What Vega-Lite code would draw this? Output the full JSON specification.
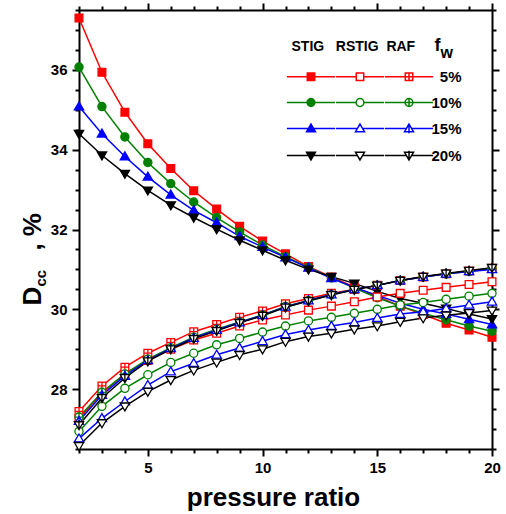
{
  "$schema": "https://vega.github.io/schema/vega-lite/v6.json",
  "width": 413,
  "height": 439,
  "autosize": {"type": "none"},
  "padding": {"left": 79, "top": 10, "right": 14, "bottom": 65},
  "background": "white",
  "config": {
    "view": {"stroke": null},
    "font": "Liberation Sans",
    "axis": {
      "grid": false,
      "domainColor": "black",
      "domainWidth": 2,
      "tickColor": "black",
      "tickWidth": 2,
      "labelFont": "Liberation Sans",
      "labelFontWeight": "bold",
      "labelFontSize": 15,
      "labelColor": "black",
      "titleFont": "Liberation Sans",
      "titleFontWeight": "bold",
      "titleColor": "black"
    }
  },
  "data": {"values": [
    {"s":"STIG 5%","x":2,"y":37.3},{"s":"STIG 5%","x":3,"y":35.94},{"s":"STIG 5%","x":4,"y":34.94},{"s":"STIG 5%","x":5,"y":34.15},{"s":"STIG 5%","x":6,"y":33.53},{"s":"STIG 5%","x":7,"y":32.97},{"s":"STIG 5%","x":8,"y":32.51},{"s":"STIG 5%","x":9,"y":32.08},{"s":"STIG 5%","x":10,"y":31.71},{"s":"STIG 5%","x":11,"y":31.39},{"s":"STIG 5%","x":12,"y":31.07},{"s":"STIG 5%","x":13,"y":30.81},{"s":"STIG 5%","x":14,"y":30.56},{"s":"STIG 5%","x":15,"y":30.32},{"s":"STIG 5%","x":16,"y":30.08},{"s":"STIG 5%","x":17,"y":29.87},{"s":"STIG 5%","x":18,"y":29.65},{"s":"STIG 5%","x":19,"y":29.48},{"s":"STIG 5%","x":20,"y":29.3},
    {"s":"STIG 10%","x":2,"y":36.07},{"s":"STIG 10%","x":3,"y":35.08},{"s":"STIG 10%","x":4,"y":34.32},{"s":"STIG 10%","x":5,"y":33.68},{"s":"STIG 10%","x":6,"y":33.15},{"s":"STIG 10%","x":7,"y":32.69},{"s":"STIG 10%","x":8,"y":32.3},{"s":"STIG 10%","x":9,"y":31.94},{"s":"STIG 10%","x":10,"y":31.61},{"s":"STIG 10%","x":11,"y":31.32},{"s":"STIG 10%","x":12,"y":31.05},{"s":"STIG 10%","x":13,"y":30.79},{"s":"STIG 10%","x":14,"y":30.53},{"s":"STIG 10%","x":15,"y":30.29},{"s":"STIG 10%","x":16,"y":30.08},{"s":"STIG 10%","x":17,"y":29.9},{"s":"STIG 10%","x":18,"y":29.74},{"s":"STIG 10%","x":19,"y":29.58},{"s":"STIG 10%","x":20,"y":29.45},
    {"s":"STIG 15%","x":2,"y":35.08},{"s":"STIG 15%","x":3,"y":34.4},{"s":"STIG 15%","x":4,"y":33.83},{"s":"STIG 15%","x":5,"y":33.32},{"s":"STIG 15%","x":6,"y":32.87},{"s":"STIG 15%","x":7,"y":32.48},{"s":"STIG 15%","x":8,"y":32.17},{"s":"STIG 15%","x":9,"y":31.83},{"s":"STIG 15%","x":10,"y":31.56},{"s":"STIG 15%","x":11,"y":31.3},{"s":"STIG 15%","x":12,"y":31.04},{"s":"STIG 15%","x":13,"y":30.78},{"s":"STIG 15%","x":14,"y":30.55},{"s":"STIG 15%","x":15,"y":30.35},{"s":"STIG 15%","x":16,"y":30.15},{"s":"STIG 15%","x":17,"y":30.0},{"s":"STIG 15%","x":18,"y":29.88},{"s":"STIG 15%","x":19,"y":29.75},{"s":"STIG 15%","x":20,"y":29.62},
    {"s":"STIG 20%","x":2,"y":34.4},{"s":"STIG 20%","x":3,"y":33.86},{"s":"STIG 20%","x":4,"y":33.4},{"s":"STIG 20%","x":5,"y":32.98},{"s":"STIG 20%","x":6,"y":32.61},{"s":"STIG 20%","x":7,"y":32.3},{"s":"STIG 20%","x":8,"y":32.01},{"s":"STIG 20%","x":9,"y":31.73},{"s":"STIG 20%","x":10,"y":31.48},{"s":"STIG 20%","x":11,"y":31.23},{"s":"STIG 20%","x":12,"y":31.0},{"s":"STIG 20%","x":13,"y":30.82},{"s":"STIG 20%","x":14,"y":30.65},{"s":"STIG 20%","x":15,"y":30.45},{"s":"STIG 20%","x":16,"y":30.27},{"s":"STIG 20%","x":17,"y":30.15},{"s":"STIG 20%","x":18,"y":30.02},{"s":"STIG 20%","x":19,"y":29.88},{"s":"STIG 20%","x":20,"y":29.76},
    {"s":"RSTIG 5%","x":2,"y":27.25},{"s":"RSTIG 5%","x":3,"y":27.9},{"s":"RSTIG 5%","x":4,"y":28.38},{"s":"RSTIG 5%","x":5,"y":28.72},{"s":"RSTIG 5%","x":6,"y":29.0},{"s":"RSTIG 5%","x":7,"y":29.23},{"s":"RSTIG 5%","x":8,"y":29.4},{"s":"RSTIG 5%","x":9,"y":29.58},{"s":"RSTIG 5%","x":10,"y":29.73},{"s":"RSTIG 5%","x":11,"y":29.86},{"s":"RSTIG 5%","x":12,"y":29.98},{"s":"RSTIG 5%","x":13,"y":30.08},{"s":"RSTIG 5%","x":14,"y":30.19},{"s":"RSTIG 5%","x":15,"y":30.31},{"s":"RSTIG 5%","x":16,"y":30.4},{"s":"RSTIG 5%","x":17,"y":30.48},{"s":"RSTIG 5%","x":18,"y":30.55},{"s":"RSTIG 5%","x":19,"y":30.62},{"s":"RSTIG 5%","x":20,"y":30.69},
    {"s":"RSTIG 10%","x":2,"y":26.94},{"s":"RSTIG 10%","x":3,"y":27.57},{"s":"RSTIG 10%","x":4,"y":28.02},{"s":"RSTIG 10%","x":5,"y":28.36},{"s":"RSTIG 10%","x":6,"y":28.67},{"s":"RSTIG 10%","x":7,"y":28.9},{"s":"RSTIG 10%","x":8,"y":29.11},{"s":"RSTIG 10%","x":9,"y":29.27},{"s":"RSTIG 10%","x":10,"y":29.43},{"s":"RSTIG 10%","x":11,"y":29.58},{"s":"RSTIG 10%","x":12,"y":29.71},{"s":"RSTIG 10%","x":13,"y":29.8},{"s":"RSTIG 10%","x":14,"y":29.9},{"s":"RSTIG 10%","x":15,"y":30.0},{"s":"RSTIG 10%","x":16,"y":30.11},{"s":"RSTIG 10%","x":17,"y":30.17},{"s":"RSTIG 10%","x":18,"y":30.25},{"s":"RSTIG 10%","x":19,"y":30.33},{"s":"RSTIG 10%","x":20,"y":30.4},
    {"s":"RSTIG 15%","x":2,"y":26.76},{"s":"RSTIG 15%","x":3,"y":27.27},{"s":"RSTIG 15%","x":4,"y":27.69},{"s":"RSTIG 15%","x":5,"y":28.1},{"s":"RSTIG 15%","x":6,"y":28.44},{"s":"RSTIG 15%","x":7,"y":28.65},{"s":"RSTIG 15%","x":8,"y":28.86},{"s":"RSTIG 15%","x":9,"y":29.03},{"s":"RSTIG 15%","x":10,"y":29.2},{"s":"RSTIG 15%","x":11,"y":29.37},{"s":"RSTIG 15%","x":12,"y":29.48},{"s":"RSTIG 15%","x":13,"y":29.58},{"s":"RSTIG 15%","x":14,"y":29.67},{"s":"RSTIG 15%","x":15,"y":29.78},{"s":"RSTIG 15%","x":16,"y":29.88},{"s":"RSTIG 15%","x":17,"y":29.94},{"s":"RSTIG 15%","x":18,"y":30.02},{"s":"RSTIG 15%","x":19,"y":30.11},{"s":"RSTIG 15%","x":20,"y":30.19},
    {"s":"RSTIG 20%","x":2,"y":26.58},{"s":"RSTIG 20%","x":3,"y":27.15},{"s":"RSTIG 20%","x":4,"y":27.57},{"s":"RSTIG 20%","x":5,"y":27.94},{"s":"RSTIG 20%","x":6,"y":28.23},{"s":"RSTIG 20%","x":7,"y":28.47},{"s":"RSTIG 20%","x":8,"y":28.67},{"s":"RSTIG 20%","x":9,"y":28.86},{"s":"RSTIG 20%","x":10,"y":29.0},{"s":"RSTIG 20%","x":11,"y":29.19},{"s":"RSTIG 20%","x":12,"y":29.32},{"s":"RSTIG 20%","x":13,"y":29.4},{"s":"RSTIG 20%","x":14,"y":29.5},{"s":"RSTIG 20%","x":15,"y":29.58},{"s":"RSTIG 20%","x":16,"y":29.69},{"s":"RSTIG 20%","x":17,"y":29.78},{"s":"RSTIG 20%","x":18,"y":29.85},{"s":"RSTIG 20%","x":19,"y":29.91},{"s":"RSTIG 20%","x":20,"y":29.97},
    {"s":"RAF 5%","x":2,"y":27.44},{"s":"RAF 5%","x":3,"y":28.08},{"s":"RAF 5%","x":4,"y":28.55},{"s":"RAF 5%","x":5,"y":28.9},{"s":"RAF 5%","x":6,"y":29.17},{"s":"RAF 5%","x":7,"y":29.44},{"s":"RAF 5%","x":8,"y":29.62},{"s":"RAF 5%","x":9,"y":29.8},{"s":"RAF 5%","x":10,"y":29.96},{"s":"RAF 5%","x":11,"y":30.14},{"s":"RAF 5%","x":12,"y":30.27},{"s":"RAF 5%","x":13,"y":30.4},{"s":"RAF 5%","x":14,"y":30.5},{"s":"RAF 5%","x":15,"y":30.6},{"s":"RAF 5%","x":16,"y":30.72},{"s":"RAF 5%","x":17,"y":30.81},{"s":"RAF 5%","x":18,"y":30.89},{"s":"RAF 5%","x":19,"y":30.96},{"s":"RAF 5%","x":20,"y":31.03},
    {"s":"RAF 10%","x":2,"y":27.3},{"s":"RAF 10%","x":3,"y":27.92},{"s":"RAF 10%","x":4,"y":28.38},{"s":"RAF 10%","x":5,"y":28.75},{"s":"RAF 10%","x":6,"y":29.04},{"s":"RAF 10%","x":7,"y":29.3},{"s":"RAF 10%","x":8,"y":29.5},{"s":"RAF 10%","x":9,"y":29.68},{"s":"RAF 10%","x":10,"y":29.86},{"s":"RAF 10%","x":11,"y":30.07},{"s":"RAF 10%","x":12,"y":30.22},{"s":"RAF 10%","x":13,"y":30.37},{"s":"RAF 10%","x":14,"y":30.5},{"s":"RAF 10%","x":15,"y":30.6},{"s":"RAF 10%","x":16,"y":30.72},{"s":"RAF 10%","x":17,"y":30.81},{"s":"RAF 10%","x":18,"y":30.89},{"s":"RAF 10%","x":19,"y":30.95},{"s":"RAF 10%","x":20,"y":31.02},
    {"s":"RAF 15%","x":2,"y":27.2},{"s":"RAF 15%","x":3,"y":27.85},{"s":"RAF 15%","x":4,"y":28.33},{"s":"RAF 15%","x":5,"y":28.72},{"s":"RAF 15%","x":6,"y":29.02},{"s":"RAF 15%","x":7,"y":29.28},{"s":"RAF 15%","x":8,"y":29.48},{"s":"RAF 15%","x":9,"y":29.67},{"s":"RAF 15%","x":10,"y":29.85},{"s":"RAF 15%","x":11,"y":30.06},{"s":"RAF 15%","x":12,"y":30.22},{"s":"RAF 15%","x":13,"y":30.37},{"s":"RAF 15%","x":14,"y":30.5},{"s":"RAF 15%","x":15,"y":30.6},{"s":"RAF 15%","x":16,"y":30.72},{"s":"RAF 15%","x":17,"y":30.81},{"s":"RAF 15%","x":18,"y":30.89},{"s":"RAF 15%","x":19,"y":30.95},{"s":"RAF 15%","x":20,"y":31.0},
    {"s":"RAF 20%","x":2,"y":27.1},{"s":"RAF 20%","x":3,"y":27.78},{"s":"RAF 20%","x":4,"y":28.28},{"s":"RAF 20%","x":5,"y":28.7},{"s":"RAF 20%","x":6,"y":29.0},{"s":"RAF 20%","x":7,"y":29.26},{"s":"RAF 20%","x":8,"y":29.46},{"s":"RAF 20%","x":9,"y":29.66},{"s":"RAF 20%","x":10,"y":29.84},{"s":"RAF 20%","x":11,"y":30.05},{"s":"RAF 20%","x":12,"y":30.21},{"s":"RAF 20%","x":13,"y":30.36},{"s":"RAF 20%","x":14,"y":30.49},{"s":"RAF 20%","x":15,"y":30.6},{"s":"RAF 20%","x":16,"y":30.72},{"s":"RAF 20%","x":17,"y":30.82},{"s":"RAF 20%","x":18,"y":30.9},{"s":"RAF 20%","x":19,"y":30.97},{"s":"RAF 20%","x":20,"y":31.04}
  ]},
  "layer": [
    {
      "mark": {"type": "line", "strokeWidth": 1.5},
      "encoding": {
        "x": {"field": "x", "type": "quantitative",
          "scale": {"domain": [2, 20], "nice": false, "zero": false},
          "axis": {"orient": "bottom", "values": [2,3,4,5,6,7,8,9,10,11,12,13,14,15,16,17,18,19,20],
            "tickSize": {"condition": {"test": "datum.value % 5 === 0", "value": 7}, "value": 4},
            "labelExpr": "datum.value % 5 === 0 ? format(datum.value, 'd') : ''",
            "labelPadding": 4, "labelFlush": false, "labelOverlap": false,
            "title": "pressure ratio", "titleFontSize": 26, "titleAlign": "center", "titleBaseline": "alphabetic",
            "titleAnchor": null, "titleX": 194, "titleY": 56}},
        "y": {"field": "y", "type": "quantitative",
          "scale": {"domain": [26.5, 37.5], "nice": false, "zero": false},
          "axis": {"orient": "left", "values": [26.5,27,27.5,28,28.5,29,29.5,30,30.5,31,31.5,32,32.5,33,33.5,34,34.5,35,35.5,36,36.5,37,37.5],
            "tickSize": {"condition": {"test": "datum.value % 2 === 0", "value": 7}, "value": 4},
            "labelExpr": "datum.value % 2 === 0 ? format(datum.value, 'd') : ''",
            "labelPadding": 5, "labelFlush": false, "labelOverlap": false,
            "title": "D\u00a0\u00a0\u00a0\u00a0\u00a0, %", "titleFontSize": 26, "titleAngle": 270, "titleAlign": "left", "titleBaseline": "alphabetic",
            "titleAnchor": null, "titleX": -39, "titleY": 295}},
        "stroke": {"field": "s", "type": "nominal", "legend": null,
          "scale": {"domain": ["STIG 5%","RSTIG 5%","RAF 5%","STIG 10%","RSTIG 10%","RAF 10%","STIG 15%","RSTIG 15%","RAF 15%","STIG 20%","RSTIG 20%","RAF 20%"],
            "range": ["#ff0000","#ff0000","#ff0000","#008000","#008000","#008000","#0000ff","#0000ff","#0000ff","#000000","#000000","#000000"]}}
      }
    },
    {
      "mark": {"type": "point", "size": 60, "strokeWidth": 1.3, "opacity": 1, "filled": true},
      "encoding": {
        "x": {"field": "x", "type": "quantitative",
          "scale": {"domain": [2, 20], "nice": false, "zero": false},
          "axis": {"orient": "top", "values": [2,3,4,5,6,7,8,9,10,11,12,13,14,15,16,17,18,19,20],
            "tickSize": {"condition": {"test": "datum.value % 5 === 0", "value": 7}, "value": 4},
            "labels": false,
            "title": "f", "titleFontSize": 18, "titleAngle": 0, "titleAlign": "left", "titleBaseline": "alphabetic",
            "titleAnchor": null, "titleX": 355, "titleY": 40}},
        "y": {"field": "y", "type": "quantitative",
          "scale": {"domain": [26.5, 37.5], "nice": false, "zero": false},
          "axis": {"orient": "right", "values": [26.5,27,27.5,28,28.5,29,29.5,30,30.5,31,31.5,32,32.5,33,33.5,34,34.5,35,35.5,36,36.5,37,37.5],
            "tickSize": {"condition": {"test": "datum.value % 2 === 0", "value": 7}, "value": 4},
            "labels": false,
            "title": "cc", "titleFontSize": 15, "titleAngle": 270, "titleAlign": "left", "titleBaseline": "alphabetic",
            "titleAnchor": null, "titleX": -447, "titleY": 276}},
        "stroke": {"field": "s", "type": "nominal", "legend": null,
          "scale": {"domain": ["STIG 5%","RSTIG 5%","RAF 5%","STIG 10%","RSTIG 10%","RAF 10%","STIG 15%","RSTIG 15%","RAF 15%","STIG 20%","RSTIG 20%","RAF 20%"],
            "range": ["#ff0000","#ff0000","#ff0000","#008000","#008000","#008000","#0000ff","#0000ff","#0000ff","#000000","#000000","#000000"]}},
        "fill": {"field": "s", "type": "nominal", "legend": null,
          "scale": {"domain": ["STIG 5%","RSTIG 5%","RAF 5%","STIG 10%","RSTIG 10%","RAF 10%","STIG 15%","RSTIG 15%","RAF 15%","STIG 20%","RSTIG 20%","RAF 20%"],
            "range": ["#ff0000","#ffffff","#ffffff","#008000","#ffffff","#ffffff","#0000ff","#ffffff","#ffffff","#000000","#ffffff","#ffffff"]}},
        "shape": {"field": "s", "type": "nominal", "legend": null,
          "scale": {"domain": ["STIG 5%","RSTIG 5%","RAF 5%","STIG 10%","RSTIG 10%","RAF 10%","STIG 15%","RSTIG 15%","RAF 15%","STIG 20%","RSTIG 20%","RAF 20%"],
            "range": [
              "M-1,-1H1V1H-1Z",
              "M-1,-1H1V1H-1Z",
              "M-1,-1H1V1H-1ZM0,-1V1M-1,0H1",
              "M-1.05,0A1.05,1.05,0,1,0,1.05,0A1.05,1.05,0,1,0,-1.05,0Z",
              "M-1.05,0A1.05,1.05,0,1,0,1.05,0A1.05,1.05,0,1,0,-1.05,0Z",
              "M-1.05,0A1.05,1.05,0,1,0,1.05,0A1.05,1.05,0,1,0,-1.05,0ZM0,-1.05V1.05M-1.05,0H1.05",
              "M0,-1.2L1.2,0.85H-1.2Z",
              "M0,-1.2L1.2,0.85H-1.2Z",
              "M0,-1.2L1.2,0.85H-1.2ZM0,-1.2V1.25",
              "M0,1.2L1.2,-0.85H-1.2Z",
              "M0,1.2L1.2,-0.85H-1.2Z",
              "M0,1.2L1.2,-0.85H-1.2ZM0,1.2V-1.3"
            ]}}
      }
    },
    {
      "mark": {"type": "point", "size": 55, "strokeWidth": 1.3, "opacity": 0, "filled": true},
      "encoding": {
        "x": {"field": "x", "type": "quantitative",
          "axis": {"orient": "top", "domain": false, "ticks": false, "labels": false,
            "title": "w", "titleFontSize": 16, "titleAngle": 0, "titleAlign": "left", "titleBaseline": "alphabetic",
            "titleAnchor": null, "titleX": 361, "titleY": 47}},
        "y": {"field": "y", "type": "quantitative",
          "axis": {"orient": "left", "domain": false, "ticks": false, "labels": false,
            "title": "STIG\u00a0\u00a0\u00a0RSTIG\u00a0\u00a0RAF", "titleFontSize": 14, "titleAngle": 0, "titleAlign": "left", "titleBaseline": "alphabetic",
            "titleAnchor": null, "titleX": 212, "titleY": 40}},
        "stroke": {"field": "s", "type": "nominal",
          "scale": {"domain": ["STIG 5%","RSTIG 5%","RAF 5%","STIG 10%","RSTIG 10%","RAF 10%","STIG 15%","RSTIG 15%","RAF 15%","STIG 20%","RSTIG 20%","RAF 20%"],
            "range": ["#ff0000","#ff0000","#ff0000","#008000","#008000","#008000","#0000ff","#0000ff","#0000ff","#000000","#000000","#000000"]}},
        "fill": {"field": "s", "type": "nominal",
          "scale": {"domain": ["STIG 5%","RSTIG 5%","RAF 5%","STIG 10%","RSTIG 10%","RAF 10%","STIG 15%","RSTIG 15%","RAF 15%","STIG 20%","RSTIG 20%","RAF 20%"],
            "range": ["#ff0000","#ffffff","#ffffff","#008000","#ffffff","#ffffff","#0000ff","#ffffff","#ffffff","#000000","#ffffff","#ffffff"]}},
        "shape": {"field": "s", "type": "nominal",
          "scale": {"domain": ["STIG 5%","RSTIG 5%","RAF 5%","STIG 10%","RSTIG 10%","RAF 10%","STIG 15%","RSTIG 15%","RAF 15%","STIG 20%","RSTIG 20%","RAF 20%"],
            "range": [
              "M-1,-1H1V1H-1ZM-6.5,0H-1M1,0H6.5",
              "M-1,-1H1V1H-1ZM-6.5,0H-1M1,0H6.5",
              "M-1,-1H1V1H-1ZM0,-1V1M-1,0H1M-6.5,0H-1M1,0H6.5",
              "M-1.05,0A1.05,1.05,0,1,0,1.05,0A1.05,1.05,0,1,0,-1.05,0ZM-6.5,0H-1.05M1.05,0H6.5",
              "M-1.05,0A1.05,1.05,0,1,0,1.05,0A1.05,1.05,0,1,0,-1.05,0ZM-6.5,0H-1.05M1.05,0H6.5",
              "M-1.05,0A1.05,1.05,0,1,0,1.05,0A1.05,1.05,0,1,0,-1.05,0ZM0,-1.05V1.05M-1.05,0H1.05M-6.5,0H-1.05M1.05,0H6.5",
              "M0,-1.2L1.2,0.85H-1.2ZM-6.5,0H-0.7M0.7,0H6.5",
              "M0,-1.2L1.2,0.85H-1.2ZM-6.5,0H-0.7M0.7,0H6.5",
              "M0,-1.2L1.2,0.85H-1.2ZM0,-1.2V1.25M-6.5,0H-0.7M0.7,0H6.5",
              "M0,1.2L1.2,-0.85H-1.2ZM-6.5,0H-0.7M0.7,0H6.5",
              "M0,1.2L1.2,-0.85H-1.2ZM-6.5,0H-0.7M0.7,0H6.5",
              "M0,1.2L1.2,-0.85H-1.2ZM0,1.2V-1.3M-6.5,0H-0.7M0.7,0H6.5"
            ]},
          "legend": {"orient": "none", "legendX": 224.5, "legendY": 59, "direction": "horizontal", "columns": 3, "columnPadding": -6, "rowPadding": 10,
            "padding": 0, "title": null,
            "labelExpr": "datum.label === 'RAF 5%' ? '\u2060\u00a0\u00a05%' : (indexof(datum.label, 'RAF') === 0 ? replace(datum.label, 'RAF ', '') : '')",
            "labelFontSize": 15, "labelFontWeight": "bold", "labelColor": "black", "labelAlign": "left", "labelOffset": 15,
            "symbolSize": 55, "symbolStrokeWidth": 1.5, "symbolOpacity": 1}}
      }
    }
  ],
  "resolve": {
    "axis": {"x": "independent", "y": "independent"},
    "scale": {"stroke": "independent", "fill": "independent", "shape": "independent"}
  }
}
